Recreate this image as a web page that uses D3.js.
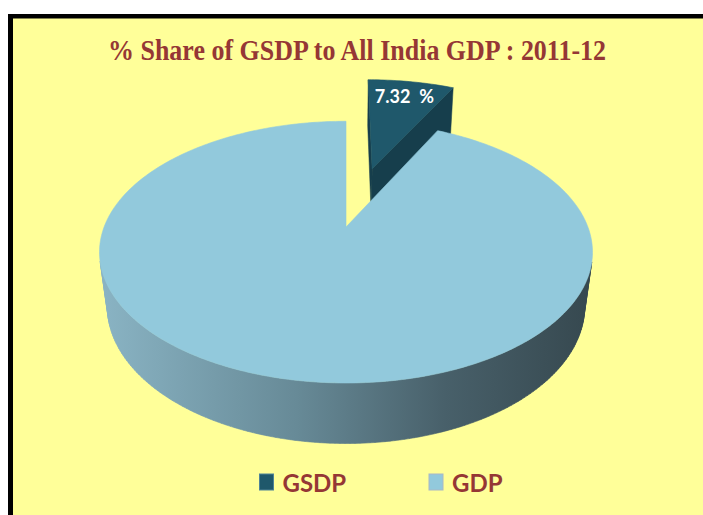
<!DOCTYPE html>
<html>
<head>
<meta charset="utf-8">
<title>% Share of GSDP to All India GDP : 2011-12</title>
<script src="https://d3js.org/d3.v7.min.js"></script>
<style>
  body { margin: 0; background: #fff; }
  svg { display: block; }
</style>
</head>
<body>
<svg id="chart"></svg>
<script>
// chart data
const categories = ["GSDP", "GDP"];
const shares = [7.32, 92.68];
const labelled = ["GSDP"];
const pulledOut = ["GSDP"];
const title = "% Share of GSDP to All India GDP : 2011-12";

const topColors = { GSDP: "#1f586b", GDP: "#92c9dc" };
const faceColors = { GSDP: "#163e4c", GDP: "#5d7f8b" };
const keyStroke = { GSDP: "#4f8397", GDP: "#a9b8c6" };

const width = 703, height = 515;
const svg = d3.select("#chart").attr("width", width).attr("height", height);

// white margin, black frame, yellow plot area
svg.append("rect").attr("width", width).attr("height", height).attr("fill", "#fff");
svg.append("rect").attr("x", 8).attr("y", 14).attr("width", width).attr("height", height).attr("fill", "#000");
svg.append("rect").attr("x", 13).attr("y", 18.5).attr("width", width).attr("height", height).attr("fill", "#ffff99");

// simple perspective camera looking down on the pie
const cx = 346, cy = 227, focal = 1075, dist = 4.444;
const tilt = 31.4 * Math.PI / 180, sinT = Math.sin(tilt), cosT = Math.cos(tilt);
const thick = 0.27, explode = 0.52;
const cam = [0, dist * sinT, -dist * cosT];

function project(x, y, z) {
    const v = y * cosT + z * sinT;
    const w = dist + z * cosT - y * sinT;
    return [cx + focal * x / w, cy - focal * v / w];
}
function rim(a, r, off, y) {
    return project(off[0] + r * Math.sin(a), y, off[1] + r * Math.cos(a));
}
function facing(p, n) {
    return (cam[0] - p[0]) * n[0] + (cam[1] - p[1]) * n[1] + (cam[2] - p[2]) * n[2] > 1e-6;
}
const line = d3.line();
const poly = pts => line(pts) + "Z";

// gradient for the rim of the cake
const full = d3.range(0, 361, 2).map(d => rim(d * Math.PI / 180, 1, [0, 0], 0));
const xr = d3.extent(full, p => p[0]);
const grad = svg.append("defs").append("linearGradient")
    .attr("id", "side").attr("gradientUnits", "userSpaceOnUse")
    .attr("x1", xr[0]).attr("x2", xr[1]).attr("y1", 0).attr("y2", 0);
[[0, "#8ab4c4"], [0.4, "#678a97"], [0.7, "#48606a"], [1, "#36484f"]].forEach(s =>
    grad.append("stop").attr("offset", s[0]).attr("stop-color", s[1]));

const arcs = d3.pie().sort(null).value(d => d)(shares);
arcs.forEach((d, i) => {
    d.name = categories[i];
    d.mid = (d.startAngle + d.endAngle) / 2;
    const e = pulledOut.includes(d.name) ? explode : 0;
    d.off = [e * Math.sin(d.mid), e * Math.cos(d.mid)];
    d.depthKey = d.off[1] + 0.5 * Math.cos(d.mid);
});

const pieG = svg.append("g");
arcs.slice().sort((a, b) => b.depthKey - a.depthKey).forEach(d => {
    const g = pieG.append("g");
    const n = Math.max(2, Math.ceil((d.endAngle - d.startAngle) / (Math.PI / 180)));
    const angles = d3.range(n + 1).map(k => d.startAngle + (d.endAngle - d.startAngle) * k / n);

    // outer wall: only strips facing the camera
    let wall = "";
    for (let k = 0; k < n; k++) {
        const a0 = angles[k], a1 = angles[k + 1], am = (a0 + a1) / 2;
        const p = [d.off[0] + Math.sin(am), -thick / 2, d.off[1] + Math.cos(am)];
        if (!facing(p, [Math.sin(am), 0, Math.cos(am)])) continue;
        wall += poly([rim(a0, 1, d.off, 0), rim(a1, 1, d.off, 0), rim(a1, 1, d.off, -thick), rim(a0, 1, d.off, -thick)]);
    }
    if (wall) g.append("path").attr("d", wall).attr("fill", "url(#side)").attr("stroke", "url(#side)").attr("stroke-width", 0.6);

    // cut faces
    [[d.startAngle, -1], [d.endAngle, 1]].forEach(([a, s]) => {
        const nrm = [s * Math.cos(a), 0, -s * Math.sin(a)];
        const p = [d.off[0] + 0.5 * Math.sin(a), -thick / 2, d.off[1] + 0.5 * Math.cos(a)];
        if (!facing(p, nrm)) return;
        g.append("path")
            .attr("d", poly([rim(a, 0, d.off, 0), rim(a, 1, d.off, 0), rim(a, 1, d.off, -thick), rim(a, 0, d.off, -thick)]))
            .attr("fill", faceColors[d.name]).attr("stroke", faceColors[d.name]).attr("stroke-width", 0.5);
    });

    // top face
    g.append("path")
        .attr("d", poly([rim(0, 0, d.off, 0)].concat(angles.map(a => rim(a, 1, d.off, 0)))))
        .attr("fill", topColors[d.name]).attr("stroke", topColors[d.name]).attr("stroke-width", 0.6);
});

// data label
const fmt = d3.format(".2f");
arcs.filter(d => labelled.includes(d.name)).forEach(d => {
    const p = rim(d.mid, 0.8, d.off, 0);
    svg.append("text")
        .attr("x", p[0]).attr("y", p[1]).attr("dy", "0.33em")
        .attr("text-anchor", "middle")
        .attr("font-family", "Lato, 'Open Sans', sans-serif")
        .attr("font-weight", "bold").attr("font-size", 18)
        .attr("fill", "#fff")
        .text(fmt(d.value) + "\u00a0 %");
});

// title
svg.append("text")
    .attr("x", 357).attr("y", 60)
    .attr("text-anchor", "middle")
    .attr("font-family", "'Liberation Serif', 'DejaVu Serif', serif")
    .attr("font-weight", "bold").attr("font-size", 29)
    .attr("textLength", 498).attr("lengthAdjust", "spacingAndGlyphs")
    .attr("fill", "#953735")
    .text(title);

// legend
const legend = svg.append("g").attr("transform", "translate(259.5,474)");
const item = legend.selectAll("g").data(categories).enter().append("g")
    .attr("transform", (d, i) => `translate(${i * 169.5},0)`);
item.append("rect")
    .attr("width", 14).attr("height", 16)
    .attr("fill", d => topColors[d]).attr("stroke", d => keyStroke[d]).attr("stroke-width", 1);
item.append("text")
    .attr("x", 23).attr("y", 17.5)
    .attr("font-family", "Lato, 'Open Sans', sans-serif")
    .attr("font-weight", "bold").attr("font-size", 24)
    .attr("fill", "#953735")
    .text(d => d);
</script>
</body>
</html>
